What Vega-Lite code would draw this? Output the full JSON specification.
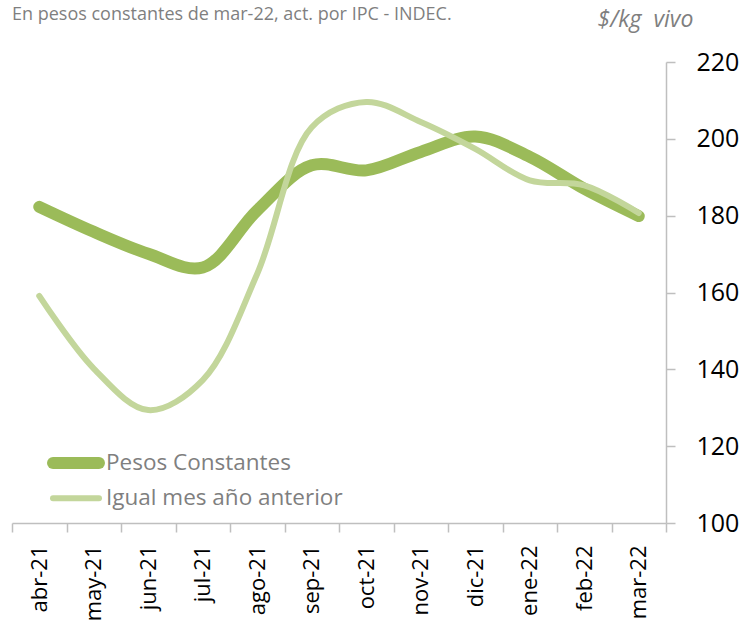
{
  "$schema": "https://vega.github.io/schema/vega-lite/v6.json",
  "width": 654,
  "height": 461,
  "autosize": {"type": "none"},
  "padding": {"left": 12, "top": 62, "right": 82, "bottom": 107},
  "background": "white",
  "title": {
    "text": "En pesos constantes de mar-22, act. por IPC - INDEC.",
    "anchor": "start",
    "frame": "group",
    "font": "Open Sans",
    "fontSize": 18,
    "fontWeight": "normal",
    "color": "#7f7f7f",
    "offset": -16
  },
  "config": {
    "view": {"stroke": null},
    "font": "Open Sans",
    "legend": {
      "orient": "none",
      "legendX": 36,
      "legendY": 389,
      "title": null,
      "symbolType": "M-4,0H4",
      "symbolSize": 132,
      "symbolOffset": 16,
      "labelFont": "Open Sans",
      "labelFontSize": 22.5,
      "labelColor": "#7f7f7f",
      "labelOffset": 18,
      "labelLimit": 400,
      "rowPadding": -9
    }
  },
  "data": {
    "values": [
      {"mes": "abr-21", "serie": "Pesos Constantes", "valor": 182.3},
      {"mes": "may-21", "serie": "Pesos Constantes", "valor": 175.8},
      {"mes": "jun-21", "serie": "Pesos Constantes", "valor": 170.1},
      {"mes": "jul-21", "serie": "Pesos Constantes", "valor": 166.5},
      {"mes": "ago-21", "serie": "Pesos Constantes", "valor": 181.4},
      {"mes": "sep-21", "serie": "Pesos Constantes", "valor": 193.1},
      {"mes": "oct-21", "serie": "Pesos Constantes", "valor": 191.8},
      {"mes": "nov-21", "serie": "Pesos Constantes", "valor": 196.6},
      {"mes": "dic-21", "serie": "Pesos Constantes", "valor": 200.6},
      {"mes": "ene-22", "serie": "Pesos Constantes", "valor": 195.3},
      {"mes": "feb-22", "serie": "Pesos Constantes", "valor": 187.0},
      {"mes": "mar-22", "serie": "Pesos Constantes", "valor": 179.9},
      {"mes": "abr-21", "serie": "Igual mes año anterior", "valor": 159.1},
      {"mes": "may-21", "serie": "Igual mes año anterior", "valor": 140.2},
      {"mes": "jun-21", "serie": "Igual mes año anterior", "valor": 129.4},
      {"mes": "jul-21", "serie": "Igual mes año anterior", "valor": 137.2},
      {"mes": "ago-21", "serie": "Igual mes año anterior", "valor": 164.9},
      {"mes": "sep-21", "serie": "Igual mes año anterior", "valor": 203.0},
      {"mes": "oct-21", "serie": "Igual mes año anterior", "valor": 209.6},
      {"mes": "nov-21", "serie": "Igual mes año anterior", "valor": 204.4},
      {"mes": "dic-21", "serie": "Igual mes año anterior", "valor": 197.4},
      {"mes": "ene-22", "serie": "Igual mes año anterior", "valor": 189.2},
      {"mes": "feb-22", "serie": "Igual mes año anterior", "valor": 187.9},
      {"mes": "mar-22", "serie": "Igual mes año anterior", "valor": 180.7}
    ]
  },
  "mark": {"type": "line", "interpolate": "catmull-rom", "strokeCap": "round", "strokeJoin": "round"},
  "encoding": {
    "x": {
      "field": "mes",
      "type": "ordinal",
      "sort": ["abr-21", "may-21", "jun-21", "jul-21", "ago-21", "sep-21", "oct-21", "nov-21", "dic-21", "ene-22", "feb-22", "mar-22"],
      "scale": {"type": "band", "paddingInner": 0, "paddingOuter": 0},
      "axis": {
        "orient": "bottom",
        "title": null,
        "labelAngle": -90,
        "labelAlign": "right",
        "labelBaseline": "middle",
        "labelFont": "Open Sans",
        "labelFontSize": 22,
        "labelColor": "black",
        "labelPadding": 13,
        "tickBand": "extent",
        "tickSize": 9,
        "tickWidth": 1.5,
        "tickColor": "#bfbfbf",
        "domainColor": "#bfbfbf",
        "domainWidth": 1.5
      }
    },
    "y": {
      "field": "valor",
      "type": "quantitative",
      "scale": {"domain": [100, 220], "nice": false, "zero": false},
      "axis": {
        "orient": "right",
        "values": [100, 120, 140, 160, 180, 200, 220],
        "grid": false,
        "title": "$/kg\u00a0 vivo",
        "titleAngle": 0,
        "titleX": -21,
        "titleY": -36,
        "titleAlign": "center",
        "titleBaseline": "alphabetic",
        "titleFont": "Open Sans",
        "titleFontStyle": "italic",
        "titleFontWeight": "normal",
        "titleFontSize": 23,
        "titleColor": "#7f7f7f",
        "labelFont": "Open Sans",
        "labelFontSize": 25,
        "labelColor": "black",
        "labelPadding": 21,
        "tickSize": 9,
        "tickWidth": 1.5,
        "tickColor": "#bfbfbf",
        "domainColor": "#bfbfbf",
        "domainWidth": 1.5
      }
    },
    "color": {
      "field": "serie",
      "type": "nominal",
      "scale": {"domain": ["Pesos Constantes", "Igual mes año anterior"], "range": ["#9bbb59", "#c3d69b"]},
      "legend": {"encode": {"symbols": {"update": {"strokeCap": {"value": "round"}}}}}
    },
    "strokeWidth": {
      "field": "serie",
      "type": "nominal",
      "scale": {"domain": ["Pesos Constantes", "Igual mes año anterior"], "range": [12, 6]},
      "legend": {"encode": {"symbols": {"update": {"strokeCap": {"value": "round"}}}}}
    }
  }
}
